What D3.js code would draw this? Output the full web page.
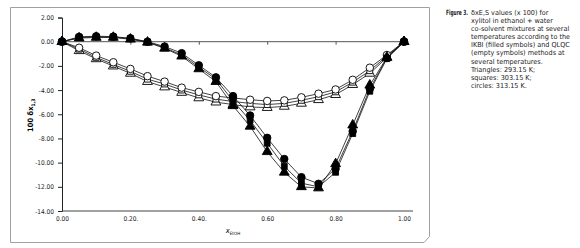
<!DOCTYPE html>
<html>
<head>
<meta charset="utf-8">
<script src="https://cdn.jsdelivr.net/npm/d3@7"></script>
<style>
  body { margin: 0; background: #fff; }
  svg { display: block; }
</style>
</head>
<body>
<div id="chart"></div>
<script>
// mole fraction of ethanol
const xEtOH = [0, 0.05, 0.10, 0.15, 0.20, 0.25, 0.30, 0.35, 0.40, 0.45, 0.50,
               0.55, 0.60, 0.65, 0.70, 0.75, 0.80, 0.85, 0.90, 0.95, 1.00];

// IKBI (filled symbols)
const ikbiTriangles = [0, 0.30, 0.35, 0.35, 0.20, -0.05, -0.55, -1.20, -2.25, -3.30, -5.30,
                       -7.00, -9.10, -10.80, -12.00, -12.10, -10.10, -6.90, -3.60, -1.30, 0];
const ikbiSquares   = [0, 0.35, 0.40, 0.38, 0.25, -0.02, -0.50, -1.10, -2.10, -3.10, -4.90,
                       -6.50, -8.40, -10.30, -11.70, -12.00, -10.80, -7.60, -4.10, -1.40, 0];
const ikbiCircles   = [0, 0.40, 0.45, 0.42, 0.28, 0.00, -0.40, -0.95, -1.95, -2.95, -4.50,
                       -6.10, -7.95, -9.70, -11.20, -11.75, -10.50, -7.40, -3.90, -1.35, 0];

// QLQC (empty symbols)
const qlqcTriangles = [0, -0.75, -1.42, -2.02, -2.62, -3.30, -3.75, -4.20, -4.65, -5.00, -5.20,
                       -5.40, -5.45, -5.35, -5.10, -4.80, -4.38, -3.55, -2.62, -1.30, 0];
const qlqcSquares   = [0, -0.62, -1.30, -1.88, -2.45, -3.10, -3.50, -4.00, -4.40, -4.75, -4.95,
                       -5.10, -5.20, -5.10, -4.85, -4.55, -4.15, -3.35, -2.40, -1.20, 0];
const qlqcCircles   = [0, -0.50, -1.15, -1.70, -2.25, -2.85, -3.30, -3.80, -4.15, -4.50, -4.65,
                       -4.80, -4.90, -4.85, -4.60, -4.30, -3.95, -3.15, -2.15, -1.10, 0];

const xTicks = [0, 0.2, 0.4, 0.6, 0.8, 1.0];
const xTickLabels = ["0.00", "0.20.", "0.40.", "0.60", "0.80", "1.00"];
const yTicks = [2, 0, -2, -4, -6, -8, -10, -12, -14];

const captionLines = [
  "δxE,S values (x 100) for",
  "xylitol in ethanol + water",
  "co-solvent mixtures at several",
  "temperatures according to the",
  "IKBI (filled symbols) and QLQC",
  "(empty symbols) methods at",
  "several temperatures.",
  "Triangles: 293.15 K;",
  "squares: 303.15 K;",
  "circles: 313.15 K."
];

const series = [
  { values: qlqcTriangles, shape: d3.symbolTriangle, filled: false },
  { values: qlqcSquares,   shape: d3.symbolSquare,   filled: false },
  { values: qlqcCircles,   shape: d3.symbolCircle,   filled: false },
  { values: ikbiTriangles, shape: d3.symbolTriangle, filled: true },
  { values: ikbiSquares,   shape: d3.symbolSquare,   filled: true },
  { values: ikbiCircles,   shape: d3.symbolCircle,   filled: true }
];

const width = 580, height = 248;
const plot = { left: 62, right: 404, top: 17.5, bottom: 211 };
const font = "'DejaVu Sans Condensed', 'DejaVu Sans', sans-serif";

const svg = d3.select("#chart").append("svg")
    .attr("width", width)
    .attr("height", height);

// outer frame with clipped corner
svg.append("path")
    .attr("d", "M10.5,7.5H429.5V236.5L424,242.5H10.5Z")
    .attr("fill", "none")
    .attr("stroke", "#a0a0a0")
    .attr("stroke-width", 1);

const x = d3.scaleLinear().domain([0, 1]).range([plot.left, plot.right]);
const y = d3.scaleLinear().domain([-14, 2]).range([plot.bottom, plot.top]);

// y axis
svg.append("g")
    .attr("transform", `translate(${plot.left},0)`)
    .call(d3.axisLeft(y).tickValues(yTicks).tickSize(4).tickPadding(4)
      .tickFormat(d => d.toFixed(2)))
    .call(g => g.select(".domain").attr("stroke", "#222"))
    .call(g => g.selectAll("line").attr("stroke", "#222"))
    .call(g => g.selectAll("text")
      .attr("font-family", font).attr("font-size", 6.5).attr("fill", "#222"));

// axis line at zero with ticks
svg.append("g")
    .attr("transform", `translate(0,${y(0)})`)
    .call(d3.axisBottom(x).tickValues(xTicks.slice(1)).tickSize(3).tickFormat(""))
    .call(g => g.select(".domain").attr("stroke", "#555").attr("d", `M${plot.left},0H${plot.right}`))
    .call(g => g.selectAll("line").attr("stroke", "#555"));

// bottom line with tick labels
svg.append("g")
    .attr("transform", `translate(0,${plot.bottom})`)
    .call(d3.axisBottom(x).tickValues(xTicks).tickSize(0).tickPadding(5)
      .tickFormat((d, i) => xTickLabels[i]))
    .call(g => g.select(".domain").attr("stroke", "#444").attr("d", `M${plot.left},0H${plot.right + 9}`))
    .call(g => g.selectAll("text")
      .attr("font-family", font).attr("font-size", 6.5).attr("fill", "#222"));

// axis titles
svg.append("text")
    .attr("transform", `translate(33,${y(-6) + 1}) rotate(-90)`)
    .attr("text-anchor", "middle")
    .attr("font-family", font)
    .attr("font-size", 7.5)
    .attr("font-weight", "bold")
    .call(t => {
      t.append("tspan").text("100 δx");
      t.append("tspan").attr("dy", 2).attr("font-size", 5).text("1,3");
    });

svg.append("text")
    .attr("x", 233)
    .attr("y", 233)
    .attr("text-anchor", "middle")
    .attr("font-family", font)
    .attr("font-size", 7.5)
    .attr("font-style", "italic")
    .call(t => {
      t.append("tspan").text("x");
      t.append("tspan").attr("dy", 2).attr("font-size", 4.5).attr("font-style", "normal").text("EtOH");
    });

// lines
const line = d3.line()
    .x((d, i) => x(xEtOH[i]))
    .y(d => y(d));

svg.append("g").selectAll("path")
  .data(series)
  .join("path")
    .attr("d", d => line(d.values))
    .attr("fill", "none")
    .attr("stroke", "#111")
    .attr("stroke-width", 0.8);

// markers
const groups = svg.append("g").selectAll("g")
  .data(series)
  .join("g");

groups.selectAll("path")
  .data(s => s.values.map((v, i) => ({ v, xv: xEtOH[i], s })))
  .join("path")
    .attr("transform", d => `translate(${x(d.xv)},${y(d.v)})`)
    .attr("d", d => d3.symbol().type(d.s.shape)
      .size(d.s.shape === d3.symbolTriangle ? 42 : d.s.shape === d3.symbolSquare ? 34 : 44)())
    .attr("fill", d => d.s.filled ? "#000" : "#fff")
    .attr("stroke", "#000")
    .attr("stroke-width", 0.9);

// caption, squeezed horizontally to look like the condensed original
const figLabel = svg.append("text")
    .attr("x", 0)
    .attr("y", 15)
    .attr("font-family", font)
    .attr("font-size", 7.2)
    .attr("font-weight", "bold")
    .attr("fill", "#222")
    .text("Figure 3.");
const kf = 22 / figLabel.node().getComputedTextLength();
figLabel.attr("transform", `translate(446,0) scale(${kf},1)`);

const capText = svg.append("g").selectAll("text")
  .data(captionLines)
  .join("text")
    .attr("x", 0)
    .attr("y", (d, i) => 15 + i * 8.1)
    .attr("font-family", font)
    .attr("font-size", 6.9)
    .attr("fill", "#222")
    .text(d => d);

// same squeeze factor for every line, set by the widest one
const widest = d3.max(capText.nodes(), n => n.getComputedTextLength());
const k = 99 / widest;
capText.attr("transform", `translate(471,0) scale(${k},1)`);
</script>
</body>
</html>
